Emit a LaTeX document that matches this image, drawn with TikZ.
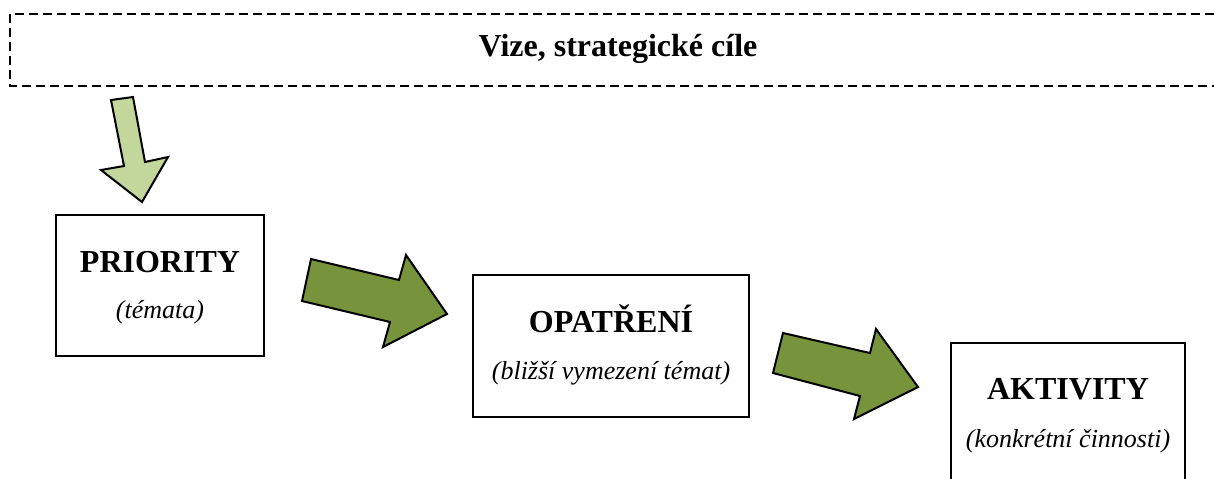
\documentclass[tikz,border=0pt]{standalone}
\usepackage{fontspec}
\setmainfont{Liberation Serif}
\definecolor{svetlezelena}{HTML}{C3D69B}
\definecolor{zelena}{HTML}{77933C}
\tikzset{
  box/.style={draw,line width=1pt,inner sep=0pt},
  nadpis/.style={font=\fontsize{16}{19}\selectfont\bfseries,inner sep=0pt,anchor=base},
  popis/.style={font=\fontsize{13}{16}\selectfont\itshape,inner sep=0pt,anchor=base},
  sipka/.style={draw=black,line width=1pt,line join=miter}
}
\begin{document}
\begin{tikzpicture}[x=0.5pt,y=-0.5pt]
\useasboundingbox (0,0) rectangle (1214,478);
\clip (0,0) rectangle (1214,478);
\draw[line width=1pt,dash pattern=on 4.5pt off 2.5pt] (1214,14) -- (10,14) -- (10,86) -- (1214,86);
\node[nadpis] (vize) at (618,56) {Vize, strategické cíle};
\filldraw[sipka,fill=svetlezelena] (111,100) -- (133,97) -- (145,162) -- (168,157) -- (142,202) -- (101,170) -- (124,166) -- cycle;
\node[box,minimum width=104pt,minimum height=70.5pt] (prio) at (160,285.5) {};
\node[nadpis] (prioN) at ([yshift=-29pt]prio.north) {PRIORITY};
\node[popis] (prioP) at ([yshift=-52pt]prio.north) {(témata)};
\filldraw[sipka,fill=zelena] (311,259) -- (399,280) -- (406,255) -- (447,314) -- (383,347) -- (390,322) -- (302,301) -- cycle;
\node[box,minimum width=138pt,minimum height=71pt] (opatr) at (611,346) {};
\node[nadpis] (opatrN) at ([yshift=-29pt]opatr.north) {OPATŘENÍ};
\node[popis] (opatrP) at ([yshift=-52.5pt]opatr.north) {(bližší vymezení témat)};
\filldraw[sipka,fill=zelena] (783,333) -- (870,353) -- (876,329) -- (918,387) -- (854,419) -- (860,396) -- (773,373) -- cycle;
\node[box,minimum width=117pt,minimum height=108.5pt] (akt) at (1068,451.5) {};
\node[nadpis] (aktN) at ([yshift=-28.5pt]akt.north) {AKTIVITY};
\node[popis] (aktP) at ([yshift=-52.5pt]akt.north) {(konkrétní činnosti)};
\end{tikzpicture}
\end{document}
